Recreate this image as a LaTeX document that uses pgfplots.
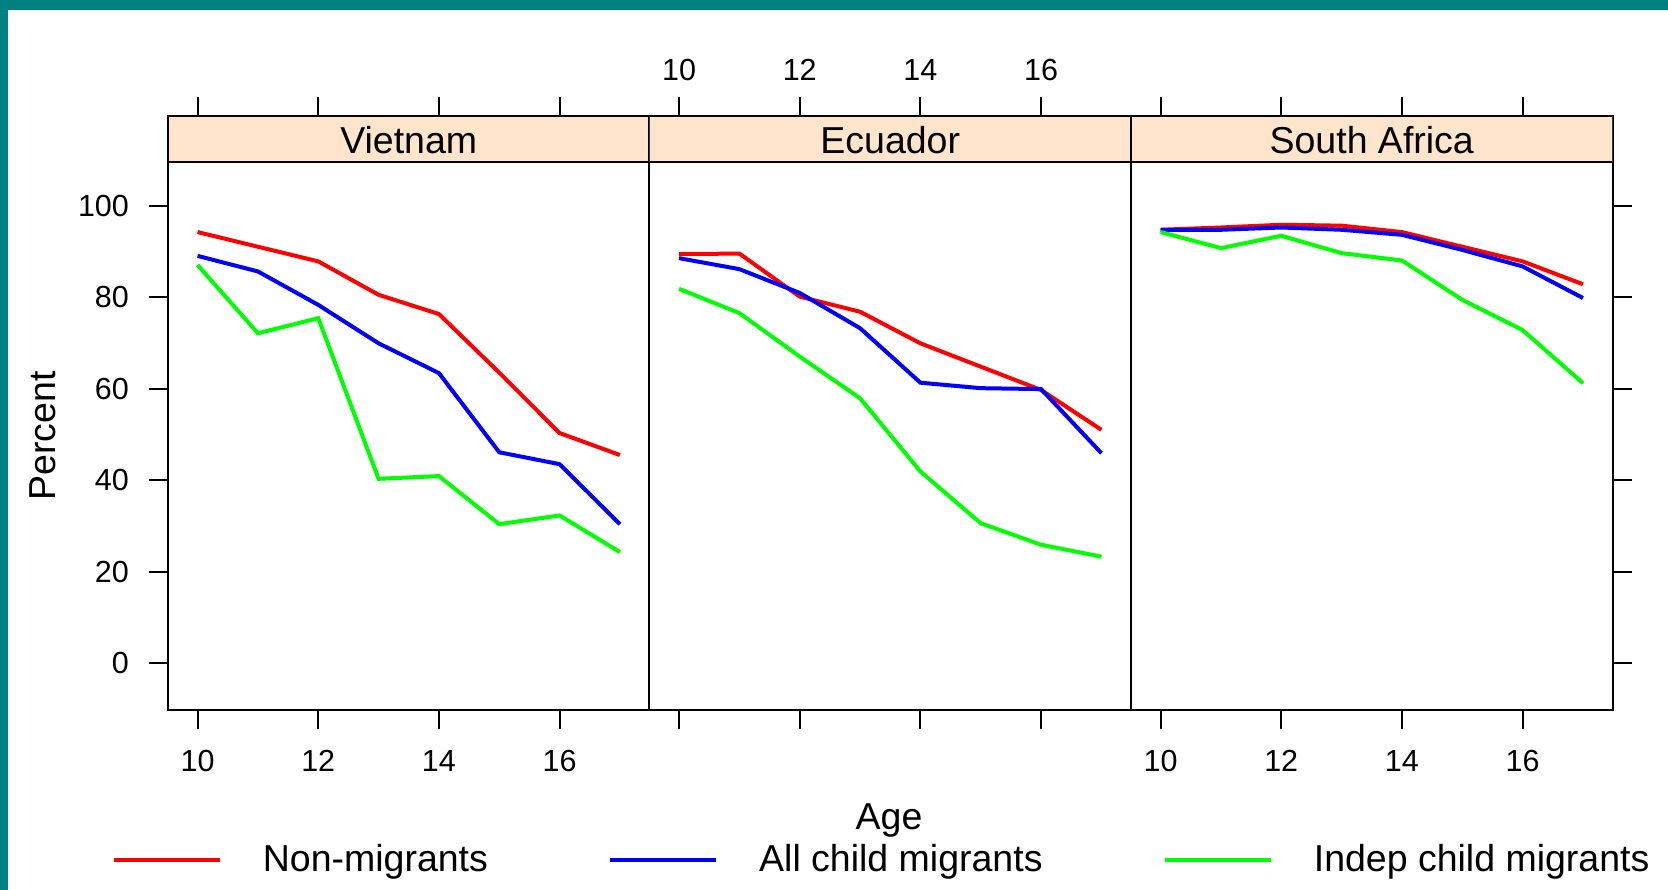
\documentclass[border=0pt]{standalone}
\usepackage{pgfplots}
\pgfplotsset{compat=1.18}
\usepackage{fontspec}
\setmainfont{Liberation Sans}
\definecolor{stripcol}{HTML}{FFE5CC}
\definecolor{frame}{HTML}{008080}
\definecolor{cred}{HTML}{FF0000}
\definecolor{cblue}{HTML}{0000FF}
\definecolor{cgreen}{HTML}{00FF00}
\newcommand{\bigfont}{\fontsize{15}{17}\selectfont}
\newcommand{\tickfont}{\fontsize{12.2}{14}\selectfont}
\pgfplotsset{
  panel/.style={
    scale only axis, width=192.6pt, height=237.5pt,
    xmin=9.51, xmax=17.49, ymin=-10.2, ymax=119.5,
    xtick={10,12,14,16}, ytick={0,20,40,60,80,100},
    tick align=outside, major tick length=7.6pt,
    axis line style={line width=0.8pt, black},
    every tick/.style={black, line width=0.8pt},
    tick label style={font=\tickfont},
    yticklabel style={xshift=-4.5pt},
    /pgf/number format/assume math mode=true,
    xtick pos=both,
    anchor=north west,
  },
  nm/.style={cred, line width=1.6pt},
  ac/.style={cblue, line width=1.6pt},
  ic/.style={cgreen, line width=1.6pt},
}
\newcommand{\strip}[1]{%
  \draw[line width=0.8pt, fill=stripcol] (axis cs:9.51,109.6) rectangle (axis cs:17.49,119.5);
  \node[font=\bigfont] at (axis cs:13.5,114.3) {#1};
}
\begin{document}
\begin{tikzpicture}
\fill[frame] (0pt,0pt) rectangle (667.2pt,-356pt);
\fill[white] (3.2pt,-4pt) rectangle (667.2pt,-356pt);

% Vietnam
\begin{axis}[panel, at={(67.2pt,-46.5pt)},
  xticklabel pos=lower, xticklabel style={yshift=-5pt},
  ytick pos=left, yticklabel pos=left]
\strip{Vietnam}
\addplot[nm] coordinates {(10,94.2) (11,91.0) (12,87.8) (13,80.5) (14,76.3) (15,63.5) (16,50.3) (17,45.5)};
\addplot[ac] coordinates {(10,89.0) (11,85.6) (12,78.3) (13,69.9) (14,63.4) (15,46.1) (16,43.5) (17,30.4)};
\addplot[ic] coordinates {(10,87.0) (11,72.1) (12,75.4) (13,40.3) (14,40.9) (15,30.4) (16,32.3) (17,24.3)};
\end{axis}

% Ecuador
\begin{axis}[panel, at={(259.8pt,-46.5pt)},
  xticklabel pos=upper, xticklabel style={yshift=3pt}, ytick=\empty,
  legend columns=3,
  legend style={draw=none, fill=none, at={(0.4850,-0.2527)}, anchor=center,
    font=\bigfont,
    /tikz/every odd column/.append style={column sep=14.5pt},
    /tikz/every even column/.append style={column sep=46pt}},
  legend image code/.code={\draw[#1] (0pt,0pt) -- (42.4pt,0pt);}]
\strip{Ecuador}
\addplot[nm] coordinates {(10,89.4) (11,89.5) (12,80.1) (13,76.8) (14,69.9) (15,64.8) (16,59.7) (17,51.0)};
\addplot[ac] coordinates {(10,88.5) (11,86.1) (12,80.9) (13,73.2) (14,61.3) (15,60.1) (16,59.9) (17,45.9)};
\addplot[ic] coordinates {(10,81.8) (11,76.5) (12,67.0) (13,57.9) (14,41.9) (15,30.6) (16,25.9) (17,23.3)};
\legend{Non-migrants, All child migrants, Indep child migrants}
\end{axis}

% South Africa
\begin{axis}[panel, at={(452.4pt,-46.5pt)},
  xticklabel pos=lower, xticklabel style={yshift=-5pt},
  ytick pos=right, yticklabels={}]
\strip{South Africa}
\addplot[nm] coordinates {(10,94.7) (11,95.2) (12,95.8) (13,95.6) (14,94.2) (15,91.0) (16,87.8) (17,82.8)};
\addplot[ac] coordinates {(10,94.7) (11,94.7) (12,95.2) (13,94.7) (14,93.6) (15,90.3) (16,86.7) (17,79.8)};
\addplot[ic] coordinates {(10,94.2) (11,90.7) (12,93.4) (13,89.6) (14,88.0) (15,79.4) (16,72.8) (17,61.2)};
\end{axis}

\node[font=\bigfont, rotate=90] at (17pt,-174.4pt) {Percent};
\node[font=\bigfont] at (355.6pt,-328pt) {Age};
\end{tikzpicture}
\end{document}
